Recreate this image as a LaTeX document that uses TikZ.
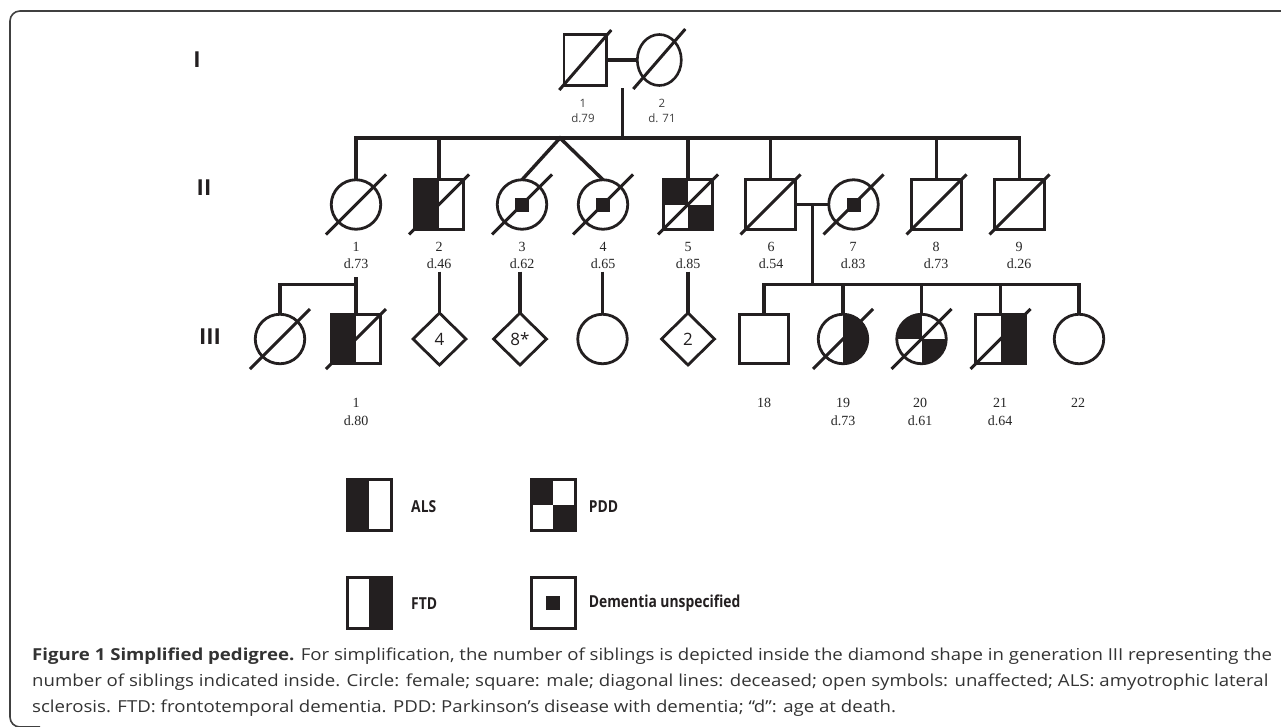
\documentclass[tikz,border=0pt]{standalone}
\usepackage{fontspec}
\usepackage{graphicx}
\setmainfont{Liberation Serif}
\newfontfamily\sansf{Open Sans}
\newfontfamily\legf[FakeStretch=0.84]{Open Sans}
\usetikzlibrary{shapes.geometric}
\definecolor{ink}{HTML}{231F20}
\newlength\capw
\newcommand\capone{\textbf{Figure 1 Simplified pedigree.} For simplification, the number of siblings is depicted inside the diamond shape in generation III representing the}
\AtBeginDocument{%
  \settowidth\capw{\sansf\fontsize{16.5}{20}\selectfont\capone}%
  \pgfmathsetmacro\capsx{1239.7/\capw}%
  \xdef\capsx{\capsx}}
\begin{document}
\begin{tikzpicture}[x=1pt,y=-1pt,
 sym/.style={draw=ink, line width=2.8pt, inner sep=0pt, outer sep=0pt, fill=white},
 sqbox/.style={sym, rectangle, minimum width=49.5pt, minimum height=49.5pt},
 cibox/.style={sym, circle, minimum size=49.5pt},
 diabox/.style={sym, diamond, minimum width=53pt, minimum height=52pt, font=\sansf\fontsize{17}{17}\selectfont, text=ink},
 connline/.style={draw=ink, line width=3.4pt},
 deadline/.style={draw=ink, line width=3pt},
 lhalf/.style={path picture={\fill[ink] (path picture bounding box.north west) rectangle (path picture bounding box.south);}},
 rhalf/.style={path picture={\fill[ink] (path picture bounding box.north) rectangle (path picture bounding box.south east);}},
 pddfill/.style={path picture={\fill[ink] (path picture bounding box.north west) rectangle (path picture bounding box.center); \fill[ink] (path picture bounding box.center) rectangle (path picture bounding box.south east);}},
 demfill/.style={path picture={\fill[ink] ([shift={(-7,-7)}]path picture bounding box.center) rectangle ([shift={(7,7)}]path picture bounding box.center);}},
 genlab/.style={font=\sansf\bfseries\fontsize{22}{22}\selectfont, text=ink, inner sep=0pt},
 idlab/.style={font=\fontsize{14}{17.3}\selectfont, align=center, text=black!85, inner sep=0pt},
 idlabI/.style={font=\sansf\fontsize{11.5}{15}\selectfont, align=center, text=black!75, inner sep=0pt},
 legtext/.style={font=\legf\bfseries\fontsize{16.5}{16.5}\selectfont, text=ink, anchor=west, inner sep=0pt},
 captext/.style={anchor=west, inner sep=0pt, text=black!80}
]
\useasboundingbox (0,0) rectangle (1281,726);
\fill[white] (0,0) rectangle (1281,726);
% frame
\draw[line width=1.6pt, black!75, rounded corners=10pt] (1300,11) -- (10,11) -- (10,727) -- (40,727);

% generation labels
\node[genlab] (gI) at (197,60) {I};
\node[genlab] (gII) at (204,188) {II};
\node[genlab] (gIII) at (210,337) {III};

% generation I
\node[sym, rectangle, minimum width=42.5pt, minimum height=50.5pt, line width=2.6pt] (I1) at (585.3,60) {};
\node[sym, ellipse, minimum width=44pt, minimum height=51pt, line width=2.6pt] (I2) at (659.3,60) {};
\draw[connline] (I1.east) -- (I2.west);
\draw[deadline] ([shift={(-26,30)}]I1.center) -- ([shift={(26,-30)}]I1.center);
\draw[deadline] ([shift={(-26,29)}]I2.center) -- ([shift={(26,-31)}]I2.center);
\node[idlabI] (lI1) at (583,110.5) {1\\d.79};
\node[idlabI] (lI2) at (662,110.5) {2\\d. 71};

% generation II
\node[cibox] (II1) at (356,204.5) {};
\node[sqbox, lhalf] (II2) at (439,204.5) {};
\node[cibox, demfill] (II3) at (522,204.5) {};
\node[cibox, demfill] (II4) at (603,204.5) {};
\node[sqbox, pddfill] (II5) at (688,204.5) {};
\node[sqbox] (II6) at (770.5,204.5) {};
\node[cibox, demfill] (II7) at (853.5,204.5) {};
\node[sqbox] (II8) at (936.5,204.5) {};
\node[sqbox] (II9) at (1019.5,204.5) {};

\coordinate (Id) at (622.7,88);
\coordinate (IIs) at (622.7,138);
\coordinate (tw) at (560,138);
\draw[connline] (Id) -- (IIs);
\draw[connline] (II1.north) |- (II9.north |- IIs) -- (II9.north);
\draw[connline] (II2.north) -- (II2.north |- IIs);
\draw[connline] (II5.north) -- (II5.north |- IIs);
\draw[connline] (II6.north) -- (II6.north |- IIs);
\draw[connline] (II8.north) -- (II8.north |- IIs);
\draw[connline] (II3.north) -- (tw) -- (II4.north);
\draw[connline] (II6.east) -- (II7.west);

\foreach \n in {II1,II2,II3,II4,II5,II6,II7,II8,II9}
  \draw[deadline] ([shift={(-30,30)}]\n.center) -- ([shift={(30,-30)}]\n.center);

\node[idlab] (lII1) at (356,255.4) {1\\d.73};
\node[idlab] (lII2) at (439,255.4) {2\\d.46};
\node[idlab] (lII3) at (522,255.4) {3\\d.62};
\node[idlab] (lII4) at (603,255.4) {4\\d.65};
\node[idlab] (lII5) at (688,255.4) {5\\d.85};
\node[idlab] (lII6) at (771,255.4) {6\\d.54};
\node[idlab] (lII7) at (853,255.4) {7\\d.83};
\node[idlab] (lII8) at (936,255.4) {8\\d.73};
\node[idlab] (lII9) at (1019,255.4) {9\\d.26};

% generation III
\node[cibox] (IIIa) at (280,339) {};
\node[sqbox, lhalf] (III1) at (356,339) {};
\node[diabox] (D4) at (439.5,339) {4};
\node[diabox] (D8) at (520,339) {8*};
\node[cibox] (IIIc) at (602.5,339) {};
\node[diabox] (D2) at (688,339) {2};
\node[sqbox] (III18) at (764,339) {};
\node[cibox, rhalf] (III19) at (843,339) {};
\node[cibox, pddfill] (III20) at (921.5,339) {};
\node[sqbox, rhalf] (III21) at (1000.5,339) {};
\node[cibox] (III22) at (1079,339) {};

\coordinate (c1) at (356,277.3);
\coordinate (c1j) at (356,284.3);
\coordinate (c2) at (439.5,271.7);
\coordinate (c3) at (520,271.7);
\coordinate (c4) at (602.5,271.7);
\coordinate (c5) at (688,271.7);
\draw[connline] (c1) -- (III1.north);
\draw[connline] (IIIa.north) |- (c1j);
\draw[connline] (c2) -- (D4.north);
\draw[connline] (c3) -- (D8.north);
\draw[connline] (c4) -- (IIIc.north);
\draw[connline] (c5) -- (D2.north);

\coordinate (m2) at (812.7,204.5);
\coordinate (IIIs) at (812.7,284.3);
\draw[connline] (m2) -- (IIIs);
\draw[connline] (III18.north) |- (III22.north |- IIIs) -- (III22.north);
\draw[connline] (III19.north) -- (III19.north |- IIIs);
\draw[connline] (III20.north) -- (III20.north |- IIIs);
\draw[connline] (III21.north) -- (III21.north |- IIIs);

\foreach \n in {IIIa,III1,III19,III20,III21}
  \draw[deadline] ([shift={(-30,30)}]\n.center) -- ([shift={(30,-30)}]\n.center);

\node[idlab] (lIII1) at (356,412) {1\\d.80};
\node[idlab] (lIII18) at (764,403.3) {18};
\node[idlab] (lIII19) at (843,412) {19\\d.73};
\node[idlab] (lIII20) at (920,412) {20\\d.61};
\node[idlab] (lIII21) at (1000,412) {21\\d.64};
\node[idlab] (lIII22) at (1078,403.3) {22};

% legend
\node[sym, rectangle, minimum width=44pt, minimum height=51pt, lhalf] (kALS) at (369.3,505) {};
\node[sym, rectangle, minimum width=44pt, minimum height=51pt, pddfill] (kPDD) at (553.3,505) {};
\node[sym, rectangle, minimum width=44pt, minimum height=51pt, rhalf] (kFTD) at (369.3,602.7) {};
\node[sym, rectangle, minimum width=44pt, minimum height=51pt, demfill] (kDEM) at (553.3,602.7) {};
\node[legtext] (tALS) at (411,506.7) {ALS};
\node[legtext] (tPDD) at (588.7,506.7) {PDD};
\node[legtext] (tFTD) at (411,603.3) {FTD};
\node[legtext] (tDEM) at (588.7,603.3) {Dementia unspecified};

% caption
\node[captext] (cap1) at (32,656) {\scalebox{\capsx}[1]{\sansf\fontsize{16.5}{20}\selectfont\capone}};
\node[captext] (cap2) at (32,682) {\scalebox{\capsx}[1]{\sansf\fontsize{16.5}{20}\selectfont number of siblings indicated inside. Circle: female; square: male; diagonal lines: deceased; open symbols: unaffected; ALS: amyotrophic lateral}};
\node[captext] (cap3) at (32,708) {\scalebox{\capsx}[1]{\sansf\fontsize{16.5}{20}\selectfont sclerosis. FTD: frontotemporal dementia. PDD: Parkinson’s disease with dementia; “d”: age at death.}};
\end{tikzpicture}
\end{document}
